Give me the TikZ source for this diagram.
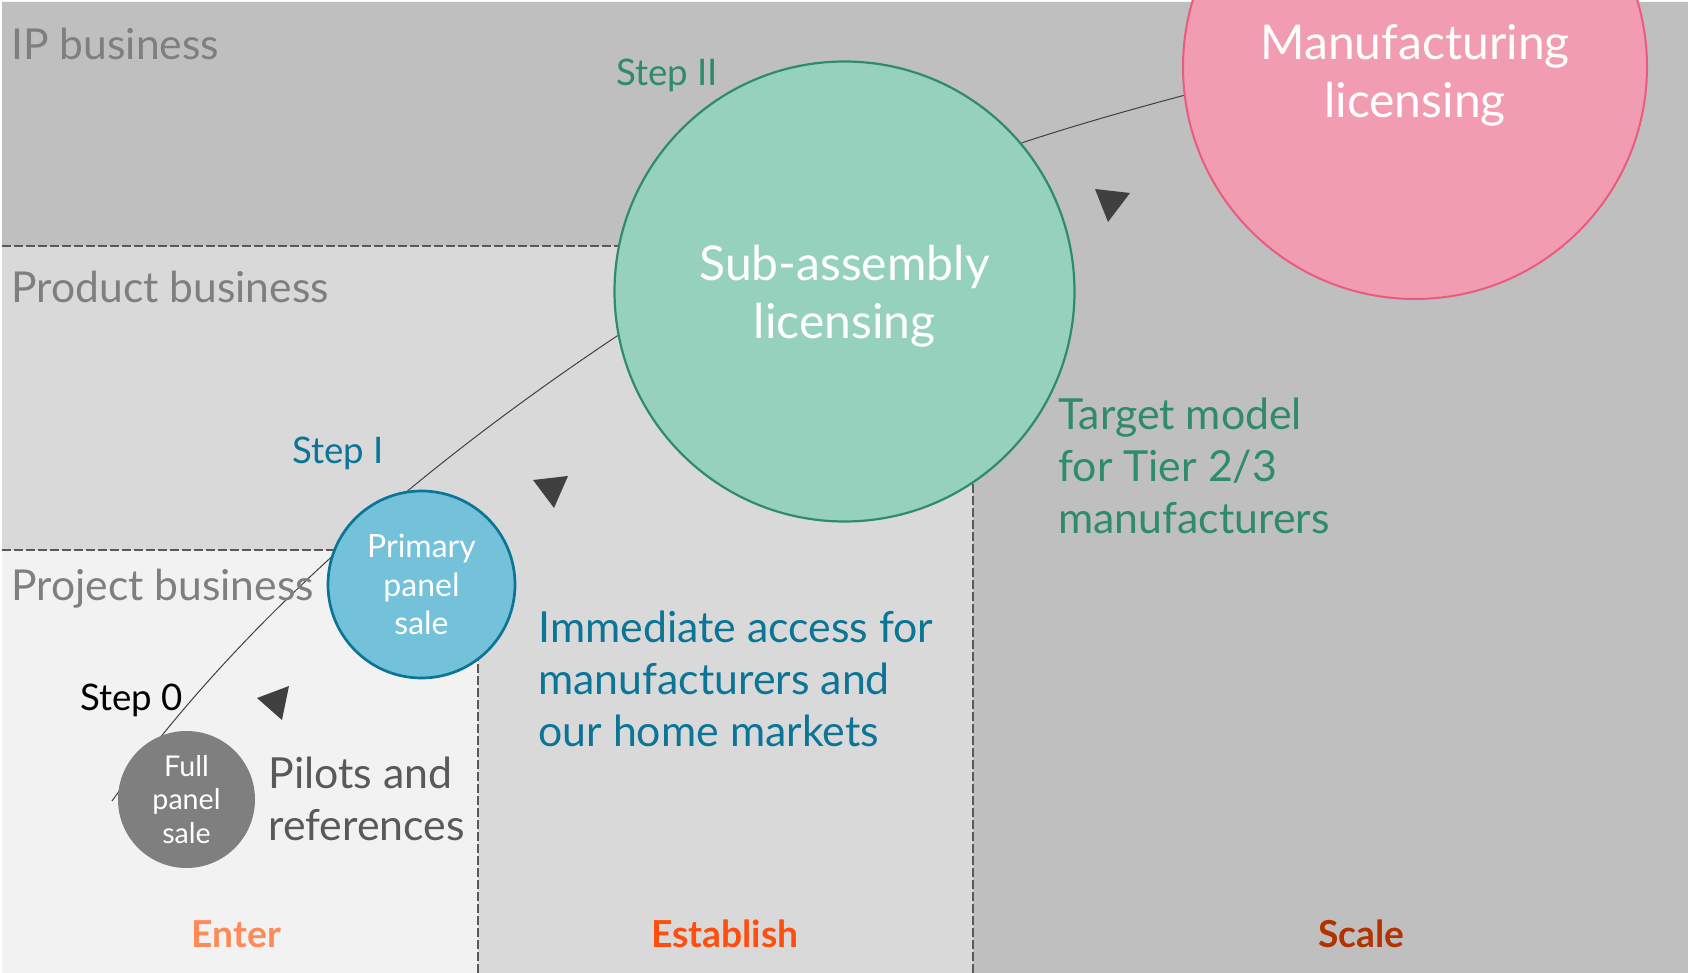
\documentclass[tikz,border=0pt]{standalone}
\usepackage{fontspec}
\setmainfont{Lato}
\usetikzlibrary{positioning}
\definecolor{bandtop}{HTML}{BFBFBF}
\definecolor{bandmid}{HTML}{D9D9D9}
\definecolor{bandlow}{HTML}{F2F2F2}
\definecolor{rule}{HTML}{595959}
\definecolor{lbl}{HTML}{7F7F7F}
\definecolor{mint}{HTML}{96D1BE}
\definecolor{mintd}{HTML}{2E8B6E}
\definecolor{rose}{HTML}{F19CB0}
\definecolor{rosed}{HTML}{E95C7E}
\definecolor{sky}{HTML}{74C1DA}
\definecolor{skyd}{HTML}{0B7597}
\definecolor{stone}{HTML}{7F7F7F}
\definecolor{ink}{HTML}{404040}
\definecolor{txt}{HTML}{595959}
\definecolor{enterc}{HTML}{FF8A57}
\definecolor{estc}{HTML}{FF4F0F}
\definecolor{scalec}{HTML}{B23200}
\pgfdeclarelayer{bands}
\pgfdeclarelayer{lines}
\pgfsetlayers{bands,lines,main}
\tikzset{
  disc/.style={circle,inner sep=0pt,align=center,text=white},
  bigdisc/.style={disc,minimum size=230pt,font=\fontsize{24}{29}\selectfont},
  sep/.style={draw=rule,line width=1pt,dash pattern=on 4.5pt off 1.5pt},
  trail/.style={draw=ink,line width=0.5pt},
  band/.style={font=\fontsize{21.3}{26}\selectfont,text=lbl,anchor=base west,inner sep=0pt},
  stepl/.style={font=\fontsize{18.3}{22}\selectfont,anchor=base west,inner sep=0pt},
  note/.style={font=\fontsize{21.4}{26}\selectfont,align=left,anchor=base west,inner sep=0pt},
  phase/.style={font=\fontsize{18.6}{22}\selectfont\bfseries,anchor=base,inner sep=0pt},
  marker/.style={fill=ink},
}
\begin{document}
\begin{tikzpicture}[x=0.5pt,y=-0.5pt]
\useasboundingbox (0,0) rectangle (1688,973);
\begin{pgfonlayer}{bands}
\fill[white] (0,0) rectangle (1688,973);
\fill[bandtop] (2,2) rectangle (1688,246) (973,246) rectangle (1688,973);
\fill[bandmid] (2,246) rectangle (973,550) (478,550) rectangle (973,973);
\fill[bandlow] (2,550) rectangle (478,973);
\end{pgfonlayer}

\node[bigdisc,fill=mint,draw=mintd,line width=1.1pt,text height=51.3pt] (sub) at (844.5,291.5) {Sub-assembly\\licensing};
\node[bigdisc,fill=rose,draw=rosed,line width=1pt,minimum size=232pt,text height=54.5pt] (manu) at (1415,67) {Manufacturing\\licensing};
\node[disc,fill=sky,draw=skyd,line width=1.35pt,minimum size=93.5pt,font=\fontsize{16}{19.25}\selectfont] (primary) at (421.5,584.5) {Primary\\panel\\sale};
\node[disc,fill=stone,minimum size=68.5pt,font=\fontsize{14.3}{16.75}\selectfont] (full) at (186.5,799.5) {Full\\panel\\sale};

\coordinate (s0) at (112,801);
\coordinate (hl1) at (2,246);
\coordinate (hl2) at (2,550);
\coordinate (vl1) at (478,973);
\coordinate (vl2) at (973,973);
\begin{pgfonlayer}{lines}
\draw[sep] (hl1) -- (hl1 -| sub);
\draw[sep] (hl2) -- (hl2 -| primary);
\draw[sep] (vl1) -- (vl1 |- primary);
\draw[sep] (vl2) -- (vl2 |- sub);
\draw[trail] (s0) .. controls (229,637) and (398,482) .. (sub.191);
\draw[trail] (sub.40) .. controls (1082,123) and (1137,108) .. (manu.187);
\end{pgfonlayer}

\fill[marker] (257,698) -- (289,686) -- (282,720) -- cycle;
\fill[marker] (533,480) -- (568,476) -- (554,508) -- cycle;
\fill[marker] (1095,189) -- (1130,193) -- (1108,222) -- cycle;

\node[band] (ipband) at (11,60) {IP business};
\node[band] (prodband) at (11,303) {Product business};
\node[band] (projband) at (11,600) {Project business};

\node[stepl,text=black] (step0) at (80,710) {Step 0};
\node[stepl,text=skyd] (step1) at (292,464) {Step I};
\node[stepl,text=mintd] (step2) at (616,86) {Step II};

\node[note,text=txt] (pilots) at (268,840) {Pilots and\\references};
\node[note,text=skyd] (access) at (538,746) {Immediate access for\\manufacturers and\\our home markets};
\node[note,text=mintd] (target) at (1058,533) {Target model\\for Tier 2/3\\manufacturers};

\node[phase,text=enterc] (enter) at (236.5,947) {Enter};
\node[phase,text=estc] (establish) at (725,947) {Establish};
\node[phase,text=scalec] (scale) at (1361.5,947) {Scale};
\end{tikzpicture}
\end{document}
